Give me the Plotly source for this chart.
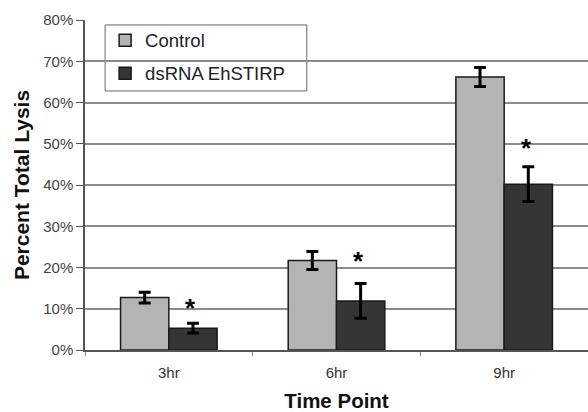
import plotly.graph_objects as go

categories = ["3hr", "6hr", "9hr"]
control = [12.7, 21.7, 66.2]
control_err = [1.3, 2.2, 2.3]
dsrna = [5.3, 11.9, 40.2]
dsrna_err = [1.2, 4.2, 4.2]
star_y = [10.7, 22.0, 49.5]
y_ticks = [0, 10, 20, 30, 40, 50, 60, 70, 80]

fig = go.Figure()
fig.add_bar(x=categories, y=control, name="Control", legendgroup="a",
            marker=dict(color="#b4b4b4", line=dict(color="#1a1a1a", width=1.5)),
            error_y=dict(type="data", array=control_err, color="black", thickness=3, width=6))
fig.add_bar(x=categories, y=dsrna, name="dsRNA EhSTIRP", legendgroup="b",
            marker=dict(color="#353535", line=dict(color="#1a1a1a", width=1.5)),
            error_y=dict(type="data", array=dsrna_err, color="black", thickness=3, width=6))

for c, sy in zip(categories, star_y):
    fig.add_annotation(x=c, y=sy, text="<b>*</b>", showarrow=False, xshift=22,
                       font=dict(size=26, color="black", family="Arial"), yshift=-2)

# legend frame
fig.add_shape(type="rect", xref="paper", yref="paper",
              x0=0.04, x1=0.441, y0=0.785, y1=0.985, layer="between",
              fillcolor="white", line=dict(color="#666", width=1))

fig.update_layout(
    width=588, height=412,
    margin=dict(l=85, r=0, t=20, b=62),
    paper_bgcolor="white", plot_bgcolor="white",
    barmode="group", bargap=0.424, bargroupgap=0,
    font=dict(family="Arial", color="#333"),
    showlegend=True,
    legend=dict(x=0.04, y=0.995, xanchor="left", yanchor="top",
                borderwidth=0, bgcolor="rgba(0,0,0,0)",
                font=dict(size=18.5, color="#222"), tracegroupgap=6,
                traceorder="grouped"),
    xaxis=dict(range=[-0.5, 2.5], showline=True, linecolor="#555", linewidth=1.5,
               ticks="outside", tickson="boundaries", ticklen=4, tickcolor="#888",
               ticklabelstandoff=8,
               tickfont=dict(size=15, color="#333"), automargin=False,
               title=dict(text="<b>Time Point</b>", font=dict(size=20.5, color="#111"), standoff=22)),
    yaxis=dict(range=[0, 80], tickvals=y_ticks, ticktext=[f"{v}%" for v in y_ticks],
               showline=True, linecolor="#555", linewidth=1.5,
               ticks="outside", ticklen=7, tickcolor="#555",
               showgrid=True, gridcolor="#8c8c8c", gridwidth=1.5, automargin=False,
               tickfont=dict(size=15, color="#444"),
               title=dict(text="<b>Percent Total Lysis</b>", font=dict(size=21, color="#111"), standoff=8)),
)

fig.write_html("out.html", config={"displayModeBar": False},
               post_script="document.body.style.margin='0';document.body.style.overflow='hidden';")
